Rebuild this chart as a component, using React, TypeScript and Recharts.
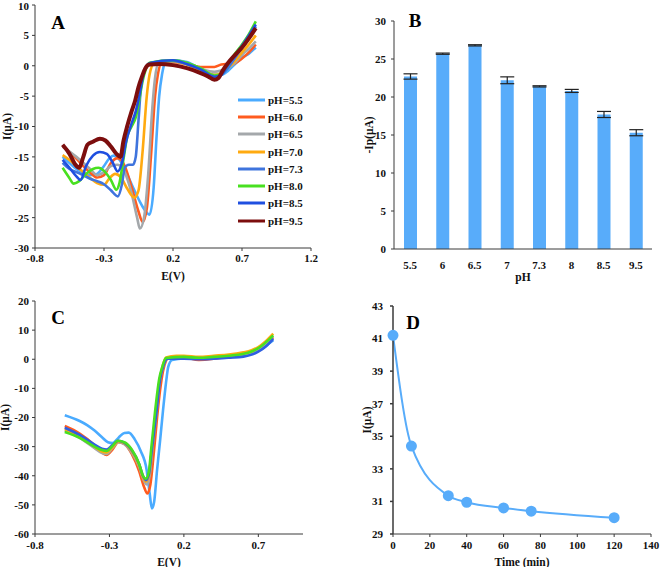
import React from "react";
import {
  LineChart,
  Line,
  XAxis,
  YAxis,
  BarChart,
  Bar,
  ErrorBar,
  Legend,
  Label,
} from "recharts";

// ---- panel A: CVs at different pH, [E (V), I (µA)] ----
const cvPH55 = [
  [-0.6, -15.0], [-0.55, -16.0], [-0.5, -17.0], [-0.45, -17.6], [-0.4, -18.0], [-0.35, -17.8],
  [-0.3, -16.5], [-0.26, -15.2], [-0.23, -14.8], [-0.19, -15.4], [-0.14, -17.5], [-0.08, -20.5],
  [-0.02, -23.2], [0.03, -24.5], [0.06, -20.0], [0.08, -12.0], [0.1, -5.0], [0.12, -1.5],
  [0.14, 0.3], [0.2, 0.9], [0.3, 0.6], [0.4, -0.5], [0.5, -1.5], [0.55, -1.5], [0.6, -0.8],
  [0.65, 0.3], [0.7, 1.3], [0.75, 2.0], [0.8, 3.0],
];
const cvPH60 = [
  [-0.6, -13.3], [-0.55, -14.2], [-0.5, -15.3], [-0.45, -16.5], [-0.4, -17.6], [-0.35, -18.4],
  [-0.3, -18.0], [-0.25, -16.0], [-0.2, -15.2], [-0.15, -16.5], [-0.1, -20.0], [-0.05, -24.0],
  [-0.02, -25.7], [0.01, -23.5], [0.04, -15.0], [0.07, -5.0], [0.09, -1.5], [0.11, 0.2],
  [0.2, 0.6], [0.3, 0.3], [0.4, -0.2], [0.5, -0.2], [0.55, 0.2], [0.58, 0.3], [0.62, 0.2],
  [0.7, 1.2], [0.75, 2.2], [0.8, 3.5],
];
const cvPH65 = [
  [-0.6, -13.3], [-0.5, -15.0], [-0.4, -17.0], [-0.35, -18.0], [-0.3, -17.5], [-0.25, -16.5],
  [-0.2, -16.3], [-0.15, -17.5], [-0.1, -21.0], [-0.06, -25.0], [-0.04, -26.8], [-0.01, -25.0],
  [0.02, -18.0], [0.05, -7.0], [0.07, -2.0], [0.09, 0.2], [0.2, 0.7], [0.3, 0.3], [0.4, -0.5],
  [0.5, -1.0], [0.55, -0.8], [0.6, -0.3], [0.65, 0.5], [0.7, 1.8], [0.75, 2.8], [0.8, 4.0],
];
const cvPH70 = [
  [-0.6, -14.7], [-0.55, -15.5], [-0.5, -16.5], [-0.45, -17.5], [-0.4, -18.5], [-0.35, -19.3],
  [-0.3, -19.6], [-0.26, -18.5], [-0.22, -17.8], [-0.18, -18.3], [-0.13, -20.3], [-0.08, -21.7],
  [-0.05, -20.5], [-0.02, -14.0], [0.01, -5.0], [0.03, -1.5], [0.06, 0.3], [0.2, 0.7],
  [0.3, 0.2], [0.4, -0.8], [0.5, -1.5], [0.55, -1.2], [0.6, -0.3], [0.65, 0.8], [0.7, 2.2],
  [0.75, 3.5], [0.8, 5.0],
];
const cvPH73 = [
  [-0.6, -16.0], [-0.55, -17.0], [-0.5, -17.5], [-0.45, -18.0], [-0.4, -18.6], [-0.35, -19.0],
  [-0.3, -19.5], [-0.25, -20.5], [-0.2, -21.5], [-0.17, -19.5], [-0.15, -16.8], [-0.12, -16.3],
  [-0.09, -16.3], [-0.07, -15.0], [-0.05, -9.0], [-0.03, -3.0], [0.0, -0.5], [0.03, 0.4],
  [0.2, 0.8], [0.3, 0.3], [0.4, -0.6], [0.5, -1.8], [0.55, -1.5], [0.6, -0.3], [0.65, 1.3],
  [0.7, 3.0], [0.75, 4.5], [0.8, 6.5],
];
const cvPH80 = [
  [-0.6, -16.8], [-0.55, -18.5], [-0.52, -19.4], [-0.48, -19.0], [-0.43, -17.8], [-0.38, -17.0],
  [-0.34, -16.8], [-0.3, -17.3], [-0.25, -18.8], [-0.21, -20.4], [-0.19, -19.5], [-0.16, -15.5],
  [-0.13, -11.5], [-0.1, -10.0], [-0.07, -8.5], [-0.04, -5.0], [-0.02, -2.5], [0.0, -0.8],
  [0.03, 0.5], [0.2, 0.9], [0.3, 0.5], [0.4, -0.4], [0.5, -1.6], [0.55, -1.4], [0.6, 0.3],
  [0.65, 2.0], [0.7, 3.5], [0.75, 5.2], [0.8, 7.3],
];
const cvPH85 = [
  [-0.6, -15.5], [-0.55, -16.8], [-0.5, -18.2], [-0.47, -18.8], [-0.43, -16.5], [-0.38, -14.8],
  [-0.33, -14.2], [-0.28, -14.5], [-0.24, -15.8], [-0.2, -17.4], [-0.17, -16.0], [-0.14, -12.5],
  [-0.1, -9.5], [-0.07, -7.5], [-0.04, -4.5], [-0.02, -2.0], [0.01, 0.0], [0.04, 0.5],
  [0.2, 0.9], [0.3, 0.3], [0.4, -0.6], [0.5, -1.8], [0.55, -1.5], [0.6, 0.3], [0.65, 1.8],
  [0.7, 3.3], [0.75, 5.0], [0.8, 6.8],
];
const cvPH95 = [
  [-0.6, -13.0], [-0.55, -14.5], [-0.51, -16.2], [-0.48, -16.8], [-0.45, -15.0], [-0.42, -13.0],
  [-0.38, -12.5], [-0.33, -12.0], [-0.29, -12.3], [-0.25, -13.3], [-0.21, -14.5], [-0.18, -15.0],
  [-0.16, -12.5], [-0.13, -9.8], [-0.1, -7.5], [-0.075, -5.8], [-0.05, -3.5], [-0.025, -1.8],
  [0.0, -0.4], [0.03, 0.2], [0.1, 0.3], [0.2, 0.1], [0.3, -0.4], [0.4, -1.2], [0.45, -1.7],
  [0.5, -2.3], [0.53, -2.0], [0.56, -0.8], [0.6, 0.5], [0.65, 1.8], [0.7, 3.0], [0.75, 4.5],
  [0.8, 6.2],
];

// ---- panel B: peak current vs pH ----
const phLabels = ["5.5", "6", "6.5", "7", "7.3", "8", "8.5", "9.5"];
const peakCurrent = [22.7, 25.7, 26.8, 22.2, 21.4, 20.8, 17.7, 15.3];
const peakErr = [0.35, 0.08, 0.08, 0.45, 0.08, 0.2, 0.4, 0.4];

// ---- panel C: repeated CVs ----
const cvRun1 = [
  [-0.6, -19.2], [-0.5, -21.2], [-0.45, -22.6], [-0.4, -24.5], [-0.35, -26.8], [-0.31, -28.5],
  [-0.28, -28.8], [-0.24, -27.0], [-0.2, -25.3], [-0.17, -25.2], [-0.13, -27.5], [-0.09, -31.5],
  [-0.05, -38.0], [-0.03, -46.0], [-0.015, -51.2], [0.0, -49.0], [0.02, -38.0], [0.04, -28.0],
  [0.06, -17.5], [0.08, -8.0], [0.095, -2.6], [0.12, -0.3], [0.2, 0.3], [0.3, 0.3], [0.4, 0.4],
  [0.5, 0.6], [0.6, 1.2], [0.65, 2.0], [0.7, 3.2], [0.75, 4.6], [0.8, 6.5],
];
const cvRun2 = [
  [-0.6, -22.9], [-0.5, -25.5], [-0.4, -29.5], [-0.35, -32.0], [-0.32, -32.9], [-0.28, -31.0],
  [-0.24, -28.5], [-0.2, -29.0], [-0.15, -32.5], [-0.1, -38.5], [-0.07, -43.5], [-0.045, -46.1],
  [-0.025, -43.0], [0.0, -31.0], [0.02, -20.0], [0.04, -10.6], [0.06, -4.0], [0.08, -0.5],
  [0.1, 0.6], [0.2, 0.6], [0.3, -0.2], [0.4, 0.2], [0.5, 1.0], [0.6, 1.8], [0.65, 2.5],
  [0.7, 3.7], [0.75, 5.5], [0.8, 7.5],
];
const cvRun3 = [
  [-0.6, -24.5], [-0.5, -27.0], [-0.4, -30.5], [-0.35, -32.2], [-0.32, -32.5], [-0.28, -30.5],
  [-0.24, -28.5], [-0.2, -29.2], [-0.15, -32.0], [-0.1, -37.0], [-0.07, -41.5], [-0.05, -43.0],
  [-0.03, -40.0], [-0.01, -30.0], [0.015, -18.6], [0.04, -7.0], [0.06, -2.6], [0.09, 0.3],
  [0.2, 0.6], [0.3, 0.4], [0.4, 0.6], [0.5, 1.0], [0.6, 1.6], [0.65, 2.5], [0.7, 3.6],
  [0.75, 5.5], [0.8, 7.8],
];
const cvRun4 = [
  [-0.6, -24.0], [-0.5, -26.6], [-0.4, -30.0], [-0.35, -31.7], [-0.32, -32.0], [-0.28, -30.2],
  [-0.24, -28.2], [-0.2, -28.8], [-0.15, -31.5], [-0.1, -36.5], [-0.075, -40.5], [-0.055, -42.0],
  [-0.035, -40.0], [-0.015, -31.0], [0.01, -19.5], [0.035, -8.0], [0.055, -2.8], [0.08, 0.6],
  [0.15, 1.2], [0.2, 1.2], [0.3, 0.8], [0.4, 1.2], [0.5, 1.6], [0.6, 2.4], [0.65, 3.0],
  [0.7, 4.2], [0.75, 6.2], [0.8, 8.8],
];
const cvRun5 = [
  [-0.6, -23.5], [-0.5, -26.0], [-0.4, -29.3], [-0.35, -30.7], [-0.32, -31.0], [-0.28, -29.5],
  [-0.24, -28.0], [-0.2, -28.6], [-0.15, -31.2], [-0.1, -36.0], [-0.075, -40.0], [-0.055, -41.5],
  [-0.035, -39.5], [-0.015, -31.0], [0.015, -18.6], [0.04, -7.0], [0.06, -2.6], [0.09, 0.2],
  [0.2, 0.2], [0.3, 0.0], [0.4, 0.2], [0.5, 0.5], [0.6, 0.9], [0.65, 1.5], [0.7, 2.6],
  [0.75, 4.4], [0.8, 7.0],
];
const cvRun6 = [
  [-0.6, -25.0], [-0.5, -27.0], [-0.4, -30.0], [-0.35, -31.2], [-0.32, -31.5], [-0.28, -29.8],
  [-0.245, -28.0], [-0.2, -28.5], [-0.15, -31.0], [-0.1, -36.0], [-0.075, -40.0], [-0.055, -41.0],
  [-0.035, -38.5], [-0.02, -31.0], [0.005, -18.6], [0.035, -6.5], [0.055, -2.6], [0.08, 0.4],
  [0.2, 0.8], [0.3, 0.5], [0.4, 0.8], [0.5, 1.2], [0.6, 1.9], [0.65, 2.6], [0.7, 3.8],
  [0.75, 5.8], [0.8, 8.2],
];

// ---- panel D: peak current vs time ----
const timeMin = [0, 10, 30, 40, 60, 75, 120];
const currentD = [41.2, 34.4, 31.35, 30.95, 30.6, 30.4, 30.0];

const font = "'Liberation Serif', 'Times New Roman', serif";
const tickStyle = { fontFamily: font, fontSize: 11, fontWeight: 700, fill: "#111" };
const titleStyle = { fontFamily: font, fontSize: 11.5, fontWeight: 700, fill: "#111" };
const axisStroke = "#3a3a3a";

const toPoints = (pairs: number[][]) => pairs.map(([e, i]) => ({ e, i }));

const seriesA = [
  { name: "pH=5.5", color: "#4aabff", w: 2.6, pts: cvPH55 },
  { name: "pH=6.0", color: "#ff5b1f", w: 2.6, pts: cvPH60 },
  { name: "pH=6.5", color: "#a4a8ab", w: 2.6, pts: cvPH65 },
  { name: "pH=7.0", color: "#ffaa10", w: 2.6, pts: cvPH70 },
  { name: "pH=7.3", color: "#3f74dd", w: 2.6, pts: cvPH73 },
  { name: "pH=8.0", color: "#48e020", w: 2.6, pts: cvPH80 },
  { name: "pH=8.5", color: "#1f4fe0", w: 2.6, pts: cvPH85 },
  { name: "pH=9.5", color: "#7c0e0e", w: 4, pts: cvPH95 },
];

const seriesC = [
  { color: "#4aabff", pts: cvRun1 },
  { color: "#ff5b1f", pts: cvRun2 },
  { color: "#a4a8ab", pts: cvRun3 },
  { color: "#ffaa10", pts: cvRun4 },
  { color: "#2f5fe0", pts: cvRun5 },
  { color: "#48e020", pts: cvRun6 },
];

const barData = phLabels.map((ph, k) => ({ ph, ip: peakCurrent[k], err: peakErr[k] }));
const timeData = timeMin.map((t, k) => ({ t, i: currentD[k] }));

const renderLegend = (props: any) => (
  <div>
    {(props.payload || []).map((p: any) => (
      <div key={p.value} style={{ display: "flex", alignItems: "center", height: 17.3 }}>
        <svg width={27} height={4} style={{ display: "block" }}>
          <line x1={0} y1={2} x2={27} y2={2} stroke={p.color} strokeWidth={3} />
        </svg>
        <span
          style={{ marginLeft: 3, fontFamily: font, fontSize: 11, fontWeight: 700, color: "#111", lineHeight: "12px" }}
        >
          {p.value}
        </span>
      </div>
    ))}
  </div>
);

const letter = (x: number, y: number, s: string) => (
  <text x={x} y={y} textAnchor="middle" fontFamily={font} fontSize={19} fontWeight={700} fill="#000">
    {s}
  </text>
);

function PanelA() {
  return (
    <LineChart width={330} height={290} margin={{ top: 5, right: 19, bottom: 0, left: 5 }}>
      <XAxis
        type="number"
        dataKey="e"
        domain={[-0.8, 1.2]}
        ticks={[-0.8, -0.3, 0.2, 0.7, 1.2]}
        allowDataOverflow
        height={42}
        tick={tickStyle}
        tickSize={3}
        tickMargin={3}
        stroke={axisStroke}
      >
        <Label value="E(V)" position="insideBottom" offset={10} style={titleStyle} />
      </XAxis>
      <YAxis
        type="number"
        domain={[-30, 10]}
        ticks={[-30, -25, -20, -15, -10, -5, 0, 5, 10]}
        width={30}
        tick={tickStyle}
        tickSize={3}
        tickMargin={3}
        stroke={axisStroke}
      >
        <Label value="I(μA)" angle={-90} position="insideLeft" offset={2} style={{ ...titleStyle, textAnchor: "middle" }} />
      </YAxis>
      <Legend
        layout="vertical"
        align="center"
        verticalAlign="middle"
        content={renderLegend}
        wrapperStyle={{ left: 238, top: 91, width: 85 }}
      />
      {seriesA.map((s) => (
        <Line
          key={s.name}
          name={s.name}
          data={toPoints(s.pts)}
          dataKey="i"
          type="monotone"
          stroke={s.color}
          strokeWidth={s.w}
          dot={false}
          isAnimationActive={false}
        />
      ))}
      {letter(58, 29, "A")}
    </LineChart>
  );
}

function PanelB() {
  return (
    <BarChart width={331} height={290} data={barData} margin={{ top: 21, right: 9, bottom: 0, left: 24 }}>
      <XAxis dataKey="ph" height={41} tick={tickStyle} tickLine={false} tickMargin={6} stroke={axisStroke}>
        <Label value="pH" position="insideBottom" offset={9} style={titleStyle} />
      </XAxis>
      <YAxis
        type="number"
        domain={[0, 30]}
        ticks={[0, 5, 10, 15, 20, 25, 30]}
        width={40}
        tick={tickStyle}
        tickSize={3}
        tickMargin={5}
        stroke={axisStroke}
      >
        <Label value="-Ip(μA)" angle={-90} position="insideLeft" offset={15} style={{ ...titleStyle, textAnchor: "middle" }} />
      </YAxis>
      <Bar dataKey="ip" fill="#58acfa" barSize={13} isAnimationActive={false}>
        <ErrorBar dataKey="err" width={7} stroke="#222" strokeWidth={1.2} />
      </Bar>
      {letter(85, 27, "B")}
    </BarChart>
  );
}

function PanelC() {
  return (
    <LineChart width={330} height={287} margin={{ top: 21, right: 27, bottom: 0, left: 5 }}>
      <XAxis
        type="number"
        dataKey="e"
        domain={[-0.8, 1.0]}
        ticks={[-0.8, -0.3, 0.2, 0.7]}
        allowDataOverflow
        height={33}
        tick={tickStyle}
        tickSize={3}
        tickMargin={4}
        stroke={axisStroke}
      >
        <Label value="E(V)" position="insideBottom" offset={1} style={titleStyle} />
      </XAxis>
      <YAxis
        type="number"
        domain={[-60, 20]}
        ticks={[-60, -50, -40, -30, -20, -10, 0, 10, 20]}
        width={30}
        tick={tickStyle}
        tickSize={3}
        tickMargin={3}
        stroke={axisStroke}
      >
        <Label value="I(μA)" angle={-90} position="insideLeft" offset={0} style={{ ...titleStyle, textAnchor: "middle" }} />
      </YAxis>
      {seriesC.map((s, k) => (
        <Line
          key={k}
          data={toPoints(s.pts)}
          dataKey="i"
          type="monotone"
          stroke={s.color}
          strokeWidth={2.6}
          dot={false}
          isAnimationActive={false}
        />
      ))}
      {letter(58, 44, "C")}
    </LineChart>
  );
}

function PanelD() {
  return (
    <LineChart width={331} height={287} data={timeData} margin={{ top: 26, right: 10, bottom: 0, left: 23 }}>
      <XAxis
        type="number"
        dataKey="t"
        domain={[0, 140]}
        ticks={[0, 20, 40, 60, 80, 100, 120, 140]}
        height={33}
        tick={tickStyle}
        tickSize={3}
        tickMargin={4}
        stroke={axisStroke}
      >
        <Label value="Time (min)" position="insideBottom" offset={1} style={titleStyle} />
      </XAxis>
      <YAxis
        type="number"
        domain={[29, 43]}
        ticks={[29, 31, 33, 35, 37, 39, 41, 43]}
        width={40}
        tick={tickStyle}
        tickSize={3}
        tickMargin={7}
        stroke={axisStroke}
        strokeWidth={1.5}
      >
        <Label value="I(μA)" angle={-90} position="insideLeft" offset={14} style={{ ...titleStyle, textAnchor: "middle" }} />
      </YAxis>
      <Line
        dataKey="i"
        type="monotone"
        stroke="#58acfa"
        strokeWidth={2}
        dot={{ r: 4.5, fill: "#58acfa", stroke: "#58acfa" }}
        isAnimationActive={false}
      />
      {letter(83, 49, "D")}
    </LineChart>
  );
}

export default function App() {
  return (
    <div style={{ position: "absolute", left: 0, top: 0, width: 661, height: 567, background: "#fff" }}>
      <div style={{ position: "absolute", left: 0, top: 0 }}>
        <PanelA />
      </div>
      <div style={{ position: "absolute", left: 330, top: 0 }}>
        <PanelB />
      </div>
      <div style={{ position: "absolute", left: 0, top: 280 }}>
        <PanelC />
      </div>
      <div style={{ position: "absolute", left: 330, top: 280 }}>
        <PanelD />
      </div>
    </div>
  );
}
